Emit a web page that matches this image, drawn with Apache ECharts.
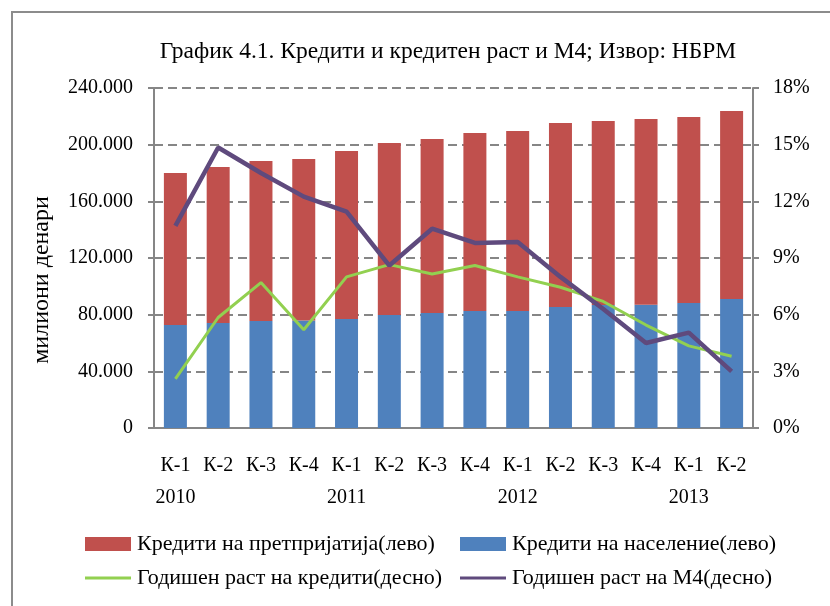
<!DOCTYPE html>
<html>
<head>
<meta charset="utf-8">
<script src="https://cdn.jsdelivr.net/npm/echarts@6/dist/echarts.min.js"></script>
<style>
  html, body { margin: 0; padding: 0; background: #fff; }
  #chart { width: 830px; height: 606px; }
</style>
</head>
<body>
<div id="chart"></div>
<script>
const quarters = ["К-1", "К-2", "К-3", "К-4", "К-1", "К-2", "К-3", "К-4", "К-1", "К-2", "К-3", "К-4", "К-1", "К-2"];
const years = ["2010", "", "", "", "2011", "", "", "", "2012", "", "", "", "2013", ""];

// милиони денари
const householdLoans = [72700, 74100, 75500, 75800, 77000, 79800, 81200, 82600, 82600, 85400, 86800, 87000, 88200, 91100];
const totalLoans = [180000, 184200, 188500, 189900, 195500, 201200, 204000, 208200, 209600, 215300, 216700, 218100, 219500, 223800];
const enterpriseLoans = totalLoans.map((t, i) => t - householdLoans[i]);

// %
const creditGrowth = [2.6, 5.85, 7.7, 5.2, 8.0, 8.65, 8.15, 8.6, 8.0, 7.45, 6.7, 5.45, 4.35, 3.8];
const m4Growth = [10.7, 14.85, 13.5, 12.25, 11.45, 8.6, 10.55, 9.8, 9.85, 8.0, 6.3, 4.5, 5.05, 3.0];

const names = [
  "Кредити на претпријатија(лево)",
  "Кредити на население(лево)",
  "Годишен раст на кредити(десно)",
  "Годишен раст на М4(десно)"
];

const font = "Liberation Serif";
const txt = { fontFamily: font, fontSize: 19, color: "#000" };
const axisGray = "#868686";

const chart = echarts.init(document.getElementById("chart"));

function legendAt(name, left, top, h) {
  return {
    data: [{ name: name, icon: "rect" }],
    left: left, top: top, padding: 0,
    itemWidth: 46, itemHeight: h, itemGap: 0,
    textStyle: Object.assign({}, txt, { fontSize: 22, padding: [0, 0, 0, 1] }),
    selectedMode: false
  };
}

chart.setOption({
  animation: false,
  backgroundColor: "#fff",
  graphic: [{
    type: "rect",
    shape: { x: 12, y: 12, width: 900, height: 700 },
    style: { fill: "none", stroke: "#8c8c8c", lineWidth: 2 },
    silent: true
  }, {
    type: "text",
    x: 42, y: 280, rotation: Math.PI / 2,
    style: {
      text: "милиони денари",
      fontFamily: font, fontSize: 24, fill: "#000",
      align: "center", verticalAlign: "middle"
    },
    silent: true
  }],
  title: {
    text: "График 4.1. Кредити и кредитен раст и М4; Извор: НБРМ",
    left: 443, top: 35, textAlign: "center",
    textStyle: { fontFamily: font, fontSize: 23.5, fontWeight: "normal", color: "#000" }
  },
  legend: [
    legendAt(names[0], 85, 533, 14),
    legendAt(names[1], 460, 533, 14),
    legendAt(names[2], 85, 567, 3),
    legendAt(names[3], 460, 567, 3)
  ],
  grid: { left: 154, right: 77, top: 88, bottom: 178 },
  xAxis: {
    type: "category",
    data: quarters.map((q, i) => q + "\n" + (years[i] || " ")),
    axisLine: { lineStyle: { color: axisGray, width: 2 } },
    axisTick: { alignWithLabel: false, interval: 0, length: 6, lineStyle: { color: axisGray, width: 2 } },
    axisLabel: Object.assign({}, txt, { fontSize: 20, interval: 0, margin: 22, lineHeight: 32 })
  },
  yAxis: [{
    type: "value",
    min: 0, max: 240000, interval: 40000,
    axisLine: { show: true, lineStyle: { color: axisGray, width: 2 } },
    axisTick: { show: true, length: 6, lineStyle: { color: axisGray, width: 2 } },
    axisLabel: Object.assign({}, txt, {
      fontSize: 20,
      margin: 21,
      formatter: v => String(v).replace(/\B(?=(\d{3})+(?!\d))/g, ".")
    }),
    splitLine: { lineStyle: { color: axisGray, width: 2, type: [9, 5] } }
  }, {
    type: "value",
    min: 0, max: 18, interval: 3,
    axisLine: { show: true, lineStyle: { color: axisGray, width: 2 } },
    axisTick: { show: true, length: 6, lineStyle: { color: axisGray, width: 2 } },
    axisLabel: Object.assign({}, txt, { fontSize: 20, margin: 20, formatter: "{value}%" }),
    splitLine: { show: false }
  }],
  series: [{
    name: names[1],
    type: "bar",
    stack: "loans",
    barWidth: 23,
    data: householdLoans,
    itemStyle: { color: "#4F81BD" }
  }, {
    name: names[0],
    type: "bar",
    stack: "loans",
    barWidth: 23,
    data: enterpriseLoans,
    itemStyle: { color: "#C0504D" }
  }, {
    name: names[2],
    type: "line",
    yAxisIndex: 1,
    data: creditGrowth,
    symbol: "none",
    lineStyle: { color: "#92D050", width: 3 },
    itemStyle: { color: "#92D050" }
  }, {
    name: names[3],
    type: "line",
    yAxisIndex: 1,
    data: m4Growth,
    symbol: "none",
    lineStyle: { color: "#5F4A7D", width: 4.5 },
    itemStyle: { color: "#5F4A7D" }
  }]
});
</script>
</body>
</html>
